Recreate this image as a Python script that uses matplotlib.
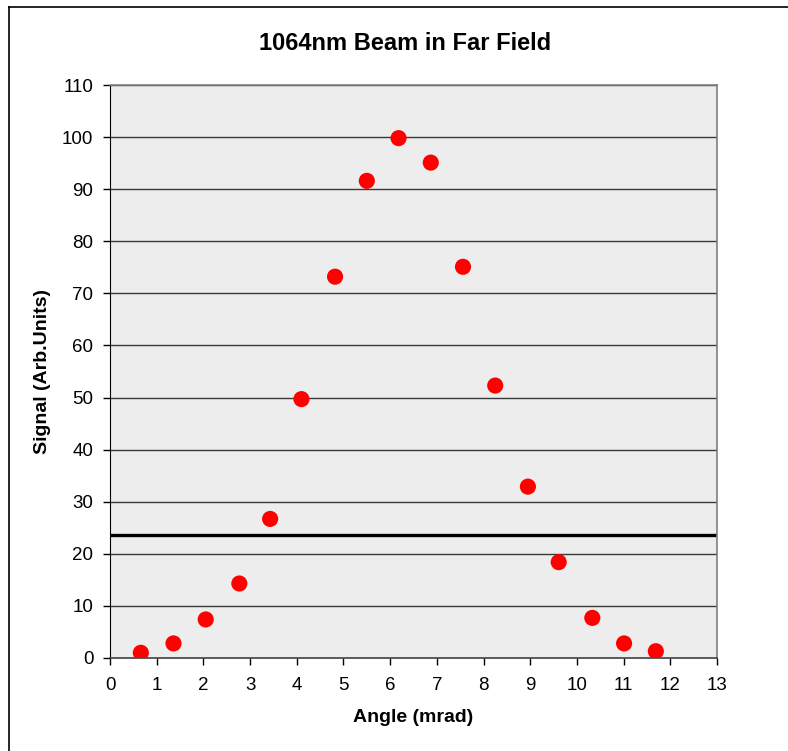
import numpy as np
import matplotlib.pyplot as plt

# Dati
angle = [0.66, 1.36, 2.05, 2.77, 3.43, 4.10, 4.82, 5.50, 6.18, 6.87, 7.56, 8.25, 8.95, 9.61, 10.33, 11.01, 11.69]
signal = [1.0, 2.8, 7.4, 14.3, 26.7, 49.7, 73.2, 91.6, 99.8, 95.1, 75.1, 52.3, 32.9, 18.4, 7.7, 2.8, 1.3]
threshold = 23.7

x_ticks = list(range(0, 14))
y_ticks = list(range(0, 111, 10))

plt.rcParams['font.family'] = ['Liberation Sans', 'DejaVu Sans']

fig = plt.figure(figsize=(7.88, 7.51), dpi=100)
ax = fig.add_axes([110 / 788, 1 - 658 / 751, 607 / 788, 573 / 751])
ax.set_facecolor('#ededed')

# griglia orizzontale
for y in y_ticks[1:]:
    ax.axhline(y, color='#3a3a3a', linewidth=1.0, zorder=1)

# soglia
ax.axhline(threshold, color='black', linewidth=2.4, zorder=2)

ax.scatter(angle, signal, s=135, color='#ff0000', edgecolors='none', zorder=3)

ax.set_xlim(0, 13)
ax.set_ylim(0, 110)
ax.set_xticks(x_ticks)
ax.set_yticks(y_ticks)
ax.tick_params(direction='out', length=5, width=1, labelsize=13.5, pad=7)
ax.tick_params(axis='x', pad=9)

for side in ['top', 'right']:
    ax.spines[side].set_color('#808080')
    ax.spines[side].set_linewidth(1.2)
ax.spines['left'].set_color('black')
ax.spines['bottom'].set_color('#404040')
ax.spines['bottom'].set_linewidth(1.2)

ax.set_xlabel('Angle (mrad)', fontsize=14, fontweight='bold')
ax.set_ylabel('Signal (Arb.Units)', fontsize=14, fontweight='bold')
ax.xaxis.set_label_coords(0.5, -(709 - 658) / 573)
ax.yaxis.set_label_coords(-(110 - 51) / 607, 0.5)

fig.text(405 / 788, 1 - 44 / 751, '1064nm Beam in Far Field', ha='center', va='center',
         fontsize=17, fontweight='bold')

# bordo del grafico (solo sopra e a sinistra, immagine ritagliata)
fig.add_artist(plt.Line2D([9 / 788, 9 / 788], [0, 1 - 7 / 751], transform=fig.transFigure,
                          color='black', linewidth=1.2))
fig.add_artist(plt.Line2D([9 / 788, 1], [1 - 7 / 751, 1 - 7 / 751], transform=fig.transFigure,
                          color='black', linewidth=1.2))

fig.savefig('out.png', dpi=100)
